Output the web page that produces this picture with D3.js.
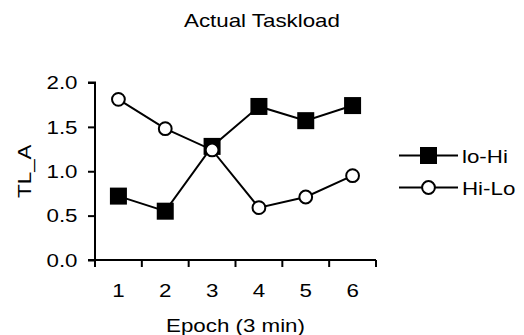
<!DOCTYPE html>
<html>
<head>
<meta charset="UTF-8">
<script src="https://d3js.org/d3.v7.min.js"></script>
<style>
  body { margin: 0; background: #fff; }
  text { font-family: 'Liberation Sans', Arial, sans-serif; fill: #000; }
</style>
</head>
<body>
<svg id="chart" width="524" height="335"></svg>
<script>
  // data
  const epochs = [1, 2, 3, 4, 5, 6];
  const loHi = [0.72, 0.55, 1.28, 1.73, 1.57, 1.74];
  const hiLo = [1.81, 1.48, 1.24, 0.59, 0.71, 0.95];
  const yTicks = [0, 0.5, 1.0, 1.5, 2.0];
  const seriesNames = ['lo-Hi', 'Hi-Lo'];

  const svg = d3.select('#chart');
  const plotL = 95, plotR = 376, plotT = 82.5, plotB = 260;
  const fs = 18.6, sx = 1.2; // text in the original is stretched horizontally

  const x = d3.scaleBand().domain(epochs).range([plotL, plotR]);
  const y = d3.scaleLinear().domain([0, 2]).range([plotB, plotT]);

  // stretched text helper
  function label(g, tx, ty, txt, anchor, rot) {
    return g.append('text')
      .attr('transform', `translate(${tx},${ty})${rot ? ' rotate(' + rot + ')' : ''} scale(${sx},1)`)
      .attr('text-anchor', anchor || 'middle')
      .attr('font-size', fs)
      .text(txt);
  }

  // title
  label(svg, 262, 27, 'Actual Taskload');

  // y axis
  const yAxis = svg.append('g')
    .attr('transform', `translate(${plotL},0)`)
    .call(d3.axisLeft(y).tickValues(yTicks).tickFormat(d3.format('.1f')).tickSize(7));
  yAxis.select('.domain').attr('stroke-width', 2).attr('d', `M-7,${plotT}H0V${plotB}`);
  yAxis.selectAll('.tick line').attr('stroke-width', 2);
  yAxis.selectAll('.tick text')
    .attr('x', null).attr('dy', null)
    .attr('transform', `translate(-17.5,6.3) scale(${sx},1)`)
    .attr('font-size', fs)
    .attr('font-family', "'Liberation Sans', Arial, sans-serif");

  // x axis: ticks at band edges
  const edges = epochs.map(d => x(d)).concat([plotR]);
  const xg = svg.append('g');
  xg.append('path')
    .attr('d', `M${plotL - 7},${plotB}H${plotR}`)
    .attr('stroke', '#000').attr('stroke-width', 2).attr('fill', 'none');
  xg.selectAll('line')
    .data(edges)
    .join('line')
    .attr('x1', d => d).attr('x2', d => d)
    .attr('y1', plotB).attr('y2', plotB + 7)
    .attr('stroke', '#000').attr('stroke-width', 2);
  epochs.forEach(d => label(xg, x(d) + x.bandwidth() / 2, 296.7, d));

  // axis titles
  label(svg, (plotL + plotR) / 2, 332, 'Epoch (3 min)');
  label(svg, 31, (plotT + plotB) / 2, 'TL_A', 'middle', -90);

  const cx = d => x(d) + x.bandwidth() / 2;
  const line = d3.line().x((d, i) => cx(epochs[i])).y(d => y(d));

  // lines
  svg.append('path').datum(loHi).attr('d', line)
    .attr('fill', 'none').attr('stroke', '#000').attr('stroke-width', 2);
  svg.append('path').datum(hiLo).attr('d', line)
    .attr('fill', 'none').attr('stroke', '#000').attr('stroke-width', 2);

  const sq = 17, cr = 6.4;
  // squares
  svg.append('g').selectAll('rect')
    .data(loHi)
    .join('rect')
    .attr('x', (d, i) => cx(epochs[i]) - sq / 2)
    .attr('y', d => y(d) - sq / 2)
    .attr('width', sq).attr('height', sq)
    .attr('fill', '#000');
  // circles
  svg.append('g').selectAll('circle')
    .data(hiLo)
    .join('circle')
    .attr('cx', (d, i) => cx(epochs[i]))
    .attr('cy', d => y(d))
    .attr('r', cr)
    .attr('fill', '#fff').attr('stroke', '#000').attr('stroke-width', 2);

  // legend
  const legend = svg.append('g');
  const rowY = [155.5, 187.5];
  seriesNames.forEach((name, i) => {
    const ty = rowY[i];
    legend.append('line')
      .attr('x1', 399).attr('x2', 458)
      .attr('y1', ty).attr('y2', ty)
      .attr('stroke', '#000').attr('stroke-width', 2);
    if (i === 0) {
      legend.append('rect')
        .attr('x', 428.5 - sq / 2).attr('y', ty - sq / 2)
        .attr('width', sq).attr('height', sq).attr('fill', '#000');
    } else {
      legend.append('circle')
        .attr('cx', 428.5).attr('cy', ty).attr('r', cr)
        .attr('fill', '#fff').attr('stroke', '#000').attr('stroke-width', 2);
    }
    label(legend, 462, ty + 7, name, 'start');
  });
</script>
</body>
</html>
